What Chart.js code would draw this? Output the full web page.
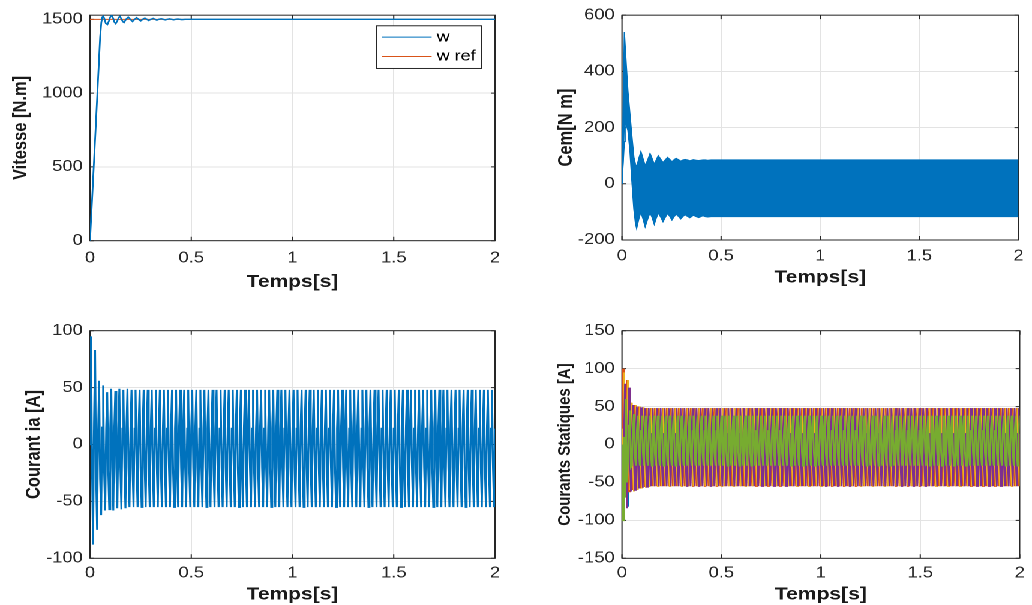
<!DOCTYPE html>
<html lang="fr">
<head>
<meta charset="UTF-8">
<title>Machine asynchrone - simulation</title>
<script src="https://cdn.jsdelivr.net/npm/chart.js@4.4.0/dist/chart.umd.min.js"></script>
<style>
  html, body { margin: 0; background: #fff; overflow: hidden; }
  /* figure is laid out narrow and stretched horizontally */
  #fig { position: absolute; left: 0; top: 0; width: 860px; height: 605px; transform: scaleX(1.2); transform-origin: 0 0; }
  #fig canvas { position: absolute; }
</style>
</head>
<body>
<div id="fig">
  <canvas id="vitesse" width="430" height="300" style="left:0;top:0"></canvas>
  <canvas id="couple" width="430" height="300" style="left:430px;top:0"></canvas>
  <canvas id="courantA" width="430" height="305" style="left:0;top:300px"></canvas>
  <canvas id="courants" width="430" height="305" style="left:430px;top:300px"></canvas>
</div>
<script>
// ---- data ----
const timeTicks = [0, 0.5, 1, 1.5, 2];
const vitesseTicks = [0, 500, 1000, 1500];
const cemTicks = [-200, 0, 200, 400, 600];
const iaTicks = [-100, -50, 0, 50, 100];
const isTicks = [-150, -100, -50, 0, 50, 100, 150];

// speed response (s, rpm)
const tW = [0, 0.01, 0.02, 0.03, 0.04, 0.05, 0.056, 0.061, 0.066, 0.072, 0.078, 0.086, 0.094, 0.1, 0.107,
  0.115, 0.12, 0.127, 0.135, 0.142, 0.148, 0.156, 0.162, 0.168, 0.178, 0.189, 0.199, 0.21, 0.22, 0.23,
  0.24, 0.25, 0.26, 0.271, 0.281, 0.29, 0.3, 0.312, 0.322, 0.33, 0.34, 0.352, 0.362, 0.372, 0.382,
  0.393, 0.403, 0.413, 0.423, 0.434, 0.444, 0.454, 0.47, 2];
const w = [0, 270, 545, 820, 1100, 1380, 1480, 1515, 1522, 1500, 1472, 1465, 1490, 1515, 1528,
  1505, 1482, 1470, 1490, 1512, 1520, 1500, 1484, 1478, 1500, 1515, 1500, 1485, 1500, 1511,
  1500, 1489, 1500, 1508, 1500, 1492, 1500, 1506, 1500, 1494, 1500, 1504, 1500, 1496, 1500,
  1503, 1500, 1497, 1500, 1502, 1500, 1498, 1500, 1500];
const tRef = [0, 2];
const wRef = [1500, 1500];

// electromagnetic torque: upper / lower edge of the ripple band
const tCem = [0, 0.004, 0.012, 0.016, 0.022, 0.03, 0.04, 0.05, 0.06, 0.068, 0.074, 0.085, 0.0955, 0.106,
  0.117, 0.13, 0.1416, 0.152, 0.163, 0.173, 0.183, 0.195, 0.207, 0.218, 0.23, 0.241, 0.252, 0.262,
  0.273, 0.285, 0.296, 0.307, 0.318, 0.33, 0.342, 0.351, 0.36, 0.375, 0.387, 0.398, 0.408, 0.42,
  0.433, 0.45, 2];
const cemHaut = [0, 0, 540, 540, 420, 330, 250, 170, 95, 70, 60, 90, 115, 90,
  65, 85, 108, 90, 70, 85, 100, 88, 76, 85, 94, 87, 79, 85,
  91, 86, 81, 85, 87, 85, 82, 84, 86, 84, 83, 84, 85, 85,
  84, 85, 85];
const cemBas = [0, 0, 150, 260, 210, 190, 120, 10, -90, -140, -159, -125, -100, -125,
  -153, -125, -102, -120, -144, -122, -104, -118, -135, -120, -106, -116, -129, -118,
  -108, -116, -125, -117, -110, -116, -121, -117, -112, -117, -120, -117, -114, -117,
  -118, -117, -117];

// stator currents, one sample every 5 ms
const pas = 0.005;
const ia = [
  0, 95, -20, -88, 20, 83, -25, -75, 10, 56, -30, -62, 15, 52, -25, -58, 14, 46, -22, -57,
  14, 49, -20, -58, 14, 47, -20, -56, 14, 49, -20, -57, 14, 48, -20, -56, 14, 49, -20, -55,
  14, 48, -20, -55, 14, 48, -20, -55, 14, 48, -20, -55, 14, 48, -20, -55, 14, 48, -20, -55,
  14, 48, -20, -55, 14, 48, -20, -55, 14, 48, -20, -55, 14, 48, -20, -55, 14, 48, -20, -55,
  14, 48, -20, -55, 14, 48, -20, -55, 14, 48, -20, -55, 14, 48, -20, -55, 14, 48, -20, -55,
  14, 48, -20, -55, 14, 48, -20, -55, 14, 48, -20, -55, 14, 48, -20, -55, 14, 48, -20, -55,
  14, 48, -20, -55, 14, 48, -20, -55, 14, 48, -20, -55, 14, 48, -20, -55, 14, 48, -20, -55,
  14, 48, -20, -55, 14, 48, -20, -55, 14, 48, -20, -55, 14, 48, -20, -55, 14, 48, -20, -55,
  14, 48, -20, -55, 14, 48, -20, -55, 14, 48, -20, -55, 14, 48, -20, -55, 14, 48, -20, -55,
  14, 48, -20, -55, 14, 48, -20, -55, 14, 48, -20, -55, 14, 48, -20, -55, 14, 48, -20, -55,
  14, 48, -20, -55, 14, 48, -20, -55, 14, 48, -20, -55, 14, 48, -20, -55, 14, 48, -20, -55,
  14, 48, -20, -55, 14, 48, -20, -55, 14, 48, -20, -55, 14, 48, -20, -55, 14, 48, -20, -55,
  14, 48, -20, -55, 14, 48, -20, -55, 14, 48, -20, -55, 14, 48, -20, -55, 14, 48, -20, -55,
  14, 48, -20, -55, 14, 48, -20, -55, 14, 48, -20, -55, 14, 48, -20, -55, 14, 48, -20, -55,
  14, 48, -20, -55, 14, 48, -20, -55, 14, 48, -20, -55, 14, 48, -20, -55, 14, 48, -20, -55,
  14, 48, -20, -55, 14, 48, -20, -55, 14, 48, -20, -55, 14, 48, -20, -55, 14, 48, -20, -55,
  14, 48, -20, -55, 14, 48, -20, -55, 14, 48, -20, -55, 14, 48, -20, -55, 14, 48, -20, -55,
  14, 48, -20, -55, 14, 48, -20, -55, 14, 48, -20, -55, 14, 48, -20, -55, 14, 48, -20, -55,
  14, 48, -20, -55, 14, 48, -20, -55, 14, 48, -20, -55, 14, 48, -20, -55, 14, 48, -20, -55,
  14, 48, -20, -55, 14, 48, -20, -55, 14, 48, -20, -55, 14, 48, -20, -55, 14, 48, -20, -55,
  14
];
const is1 = [
  0, -40, -88, 30, 55, -30, -82, 20, 52, -25, -60, 15, 50, -20, -58, 14, 48, -20, -56, 14, 48
];
const is2 = [
  0, 100, -10, -60, 20, 85, -15, -62, 18, 55, -18, -60, 16, 52, -20, -58, 15, 50, -20, -57,
  14, 49, -20, -56, 14, 48, -20, -56, 14, 48, -20, -55, 14, 48, -20, -55, 14, 48, -20, -55,
  14, 48, -20, -55, 14, 48, -20, -55, 14, 48, -20, -55, 14, 48, -20, -55, 14, 48, -20, -55,
  14, 48, -20, -55, 14, 48, -20, -55, 14, 48, -20, -55, 14, 48, -20, -55, 14, 48, -20, -55,
  14, 48, -20, -55, 14, 48, -20, -55, 14, 48, -20, -55, 14, 48, -20, -55, 14, 48, -20, -55,
  14, 48, -20, -55, 14, 48, -20, -55, 14, 48, -20, -55, 14, 48, -20, -55, 14, 48, -20, -55,
  14, 48, -20, -55, 14, 48, -20, -55, 14, 48, -20, -55, 14, 48, -20, -55, 14, 48, -20, -55,
  14, 48, -20, -55, 14, 48, -20, -55, 14, 48, -20, -55, 14, 48, -20, -55, 14, 48, -20, -55,
  14, 48, -20, -55, 14, 48, -20, -55, 14, 48, -20, -55, 14, 48, -20, -55, 14, 48, -20, -55,
  14, 48, -20, -55, 14, 48, -20, -55, 14, 48, -20, -55, 14, 48, -20, -55, 14, 48, -20, -55,
  14, 48, -20, -55, 14, 48, -20, -55, 14, 48, -20, -55, 14, 48, -20, -55, 14, 48, -20, -55,
  14, 48, -20, -55, 14, 48, -20, -55, 14, 48, -20, -55, 14, 48, -20, -55, 14, 48, -20, -55,
  14, 48, -20, -55, 14, 48, -20, -55, 14, 48, -20, -55, 14, 48, -20, -55, 14, 48, -20, -55,
  14, 48, -20, -55, 14, 48, -20, -55, 14, 48, -20, -55, 14, 48, -20, -55, 14, 48, -20, -55,
  14, 48, -20, -55, 14, 48, -20, -55, 14, 48, -20, -55, 14, 48, -20, -55, 14, 48, -20, -55,
  14, 48, -20, -55, 14, 48, -20, -55, 14, 48, -20, -55, 14, 48, -20, -55, 14, 48, -20, -55,
  14, 48, -20, -55, 14, 48, -20, -55, 14, 48, -20, -55, 14, 48, -20, -55, 14, 48, -20, -55,
  14, 48, -20, -55, 14, 48, -20, -55, 14, 48, -20, -55, 14, 48, -20, -55, 14, 48, -20, -55,
  14, 48, -20, -55, 14, 48, -20, -55, 14, 48, -20, -55, 14, 48, -20, -55, 14, 48, -20, -55,
  14, 48, -20, -55, 14, 48, -20, -55, 14, 48, -20, -55, 14, 48, -20, -55, 14, 48, -20, -55,
  14
];
const is3 = [
  0, 20, 95, -20, -50, 25, 85, -25, -60, 18, 55, -20, -62, 15, 52, -20, -60, 14, 50, -20,
  -58, 14, 49, -20, -57, 14, 48, -20, -56, 14, 48, -20, -55, 14, 48, -20, -55, 14, 48, -20,
  -55, 14, 48, -20, -55, 14, 48, -20, -55, 14, 48, -20, -55, 14, 48, -20, -55, 14, 48, -20,
  -55, 14, 48, -20, -55, 14, 48, -20, -55, 14, 48, -20, -55, 14, 48, -20, -55, 14, 48, -20,
  -55, 14, 48, -20, -55, 14, 48, -20, -55, 14, 48, -20, -55, 14, 48, -20, -55, 14, 48, -20,
  -55, 14, 48, -20, -55, 14, 48, -20, -55, 14, 48, -20, -55, 14, 48, -20, -55, 14, 48, -20,
  -55, 14, 48, -20, -55, 14, 48, -20, -55, 14, 48, -20, -55, 14, 48, -20, -55, 14, 48, -20,
  -55, 14, 48, -20, -55, 14, 48, -20, -55, 14, 48, -20, -55, 14, 48, -20, -55, 14, 48, -20,
  -55, 14, 48, -20, -55, 14, 48, -20, -55, 14, 48, -20, -55, 14, 48, -20, -55, 14, 48, -20,
  -55, 14, 48, -20, -55, 14, 48, -20, -55, 14, 48, -20, -55, 14, 48, -20, -55, 14, 48, -20,
  -55, 14, 48, -20, -55, 14, 48, -20, -55, 14, 48, -20, -55, 14, 48, -20, -55, 14, 48, -20,
  -55, 14, 48, -20, -55, 14, 48, -20, -55, 14, 48, -20, -55, 14, 48, -20, -55, 14, 48, -20,
  -55, 14, 48, -20, -55, 14, 48, -20, -55, 14, 48, -20, -55, 14, 48, -20, -55, 14, 48, -20,
  -55, 14, 48, -20, -55, 14, 48, -20, -55, 14, 48, -20, -55, 14, 48, -20, -55, 14, 48, -20,
  -55, 14, 48, -20, -55, 14, 48, -20, -55, 14, 48, -20, -55, 14, 48, -20, -55, 14, 48, -20,
  -55, 14, 48, -20, -55, 14, 48, -20, -55, 14, 48, -20, -55, 14, 48, -20, -55, 14, 48, -20,
  -55, 14, 48, -20, -55, 14, 48, -20, -55, 14, 48, -20, -55, 14, 48, -20, -55, 14, 48, -20,
  -55, 14, 48, -20, -55, 14, 48, -20, -55, 14, 48, -20, -55, 14, 48, -20, -55, 14, 48, -20,
  -55, 14, 48, -20, -55, 14, 48, -20, -55, 14, 48, -20, -55, 14, 48, -20, -55, 14, 48, -20,
  -55, 14, 48, -20, -55, 14, 48, -20, -55, 14, 48, -20, -55, 14, 48, -20, -55, 14, 48, -20,
  -55
];
const is4 = [
  0, -85, 10, 80, -25, -84, 14, 75, -20, -62, 14, 52, -20, -60, 14, 50, -20, -58, 14, 49,
  -20, -57, 14, 48, -20, -56, 14, 48, -20, -55, 14, 48, -20, -55, 14, 48, -20, -55, 14, 48,
  -20, -55, 14, 48, -20, -55, 14, 48, -20, -55, 14, 48, -20, -55, 14, 48, -20, -55, 14, 48,
  -20, -55, 14, 48, -20, -55, 14, 48, -20, -55, 14, 48, -20, -55, 14, 48, -20, -55, 14, 48,
  -20, -55, 14, 48, -20, -55, 14, 48, -20, -55, 14, 48, -20, -55, 14, 48, -20, -55, 14, 48,
  -20, -55, 14, 48, -20, -55, 14, 48, -20, -55, 14, 48, -20, -55, 14, 48, -20, -55, 14, 48,
  -20, -55, 14, 48, -20, -55, 14, 48, -20, -55, 14, 48, -20, -55, 14, 48, -20, -55, 14, 48,
  -20, -55, 14, 48, -20, -55, 14, 48, -20, -55, 14, 48, -20, -55, 14, 48, -20, -55, 14, 48,
  -20, -55, 14, 48, -20, -55, 14, 48, -20, -55, 14, 48, -20, -55, 14, 48, -20, -55, 14, 48,
  -20, -55, 14, 48, -20, -55, 14, 48, -20, -55, 14, 48, -20, -55, 14, 48, -20, -55, 14, 48,
  -20, -55, 14, 48, -20, -55, 14, 48, -20, -55, 14, 48, -20, -55, 14, 48, -20, -55, 14, 48,
  -20, -55, 14, 48, -20, -55, 14, 48, -20, -55, 14, 48, -20, -55, 14, 48, -20, -55, 14, 48,
  -20, -55, 14, 48, -20, -55, 14, 48, -20, -55, 14, 48, -20, -55, 14, 48, -20, -55, 14, 48,
  -20, -55, 14, 48, -20, -55, 14, 48, -20, -55, 14, 48, -20, -55, 14, 48, -20, -55, 14, 48,
  -20, -55, 14, 48, -20, -55, 14, 48, -20, -55, 14, 48, -20, -55, 14, 48, -20, -55, 14, 48,
  -20, -55, 14, 48, -20, -55, 14, 48, -20, -55, 14, 48, -20, -55, 14, 48, -20, -55, 14, 48,
  -20, -55, 14, 48, -20, -55, 14, 48, -20, -55, 14, 48, -20, -55, 14, 48, -20, -55, 14, 48,
  -20, -55, 14, 48, -20, -55, 14, 48, -20, -55, 14, 48, -20, -55, 14, 48, -20, -55, 14, 48,
  -20, -55, 14, 48, -20, -55, 14, 48, -20, -55, 14, 48, -20, -55, 14, 48, -20, -55, 14, 48,
  -20, -55, 14, 48, -20, -55, 14, 48, -20, -55, 14, 48, -20, -55, 14, 48, -20, -55, 14, 48,
  -20
];
const is5 = [
  0, -100, 10, -70, 60, -50, -20, 25, 45, -30, -28, 20, 40, -15, -28, 18, 38, -10, -28, 18,
  38, -10, -28, 18, 38, -10, -28, 18, 38, -10, -28, 18, 38, -10, -28, 18, 38, -10, -28, 18,
  38, -10, -28, 18, 38, -10, -28, 18, 38, -10, -28, 18, 38, -10, -28, 18, 38, -10, -28, 18,
  38, -10, -28, 18, 38, -10, -28, 18, 38, -10, -28, 18, 38, -10, -28, 18, 38, -10, -28, 18,
  38, -10, -28, 18, 38, -10, -28, 18, 38, -10, -28, 18, 38, -10, -28, 18, 38, -10, -28, 18,
  38, -10, -28, 18, 38, -10, -28, 18, 38, -10, -28, 18, 38, -10, -28, 18, 38, -10, -28, 18,
  38, -10, -28, 18, 38, -10, -28, 18, 38, -10, -28, 18, 38, -10, -28, 18, 38, -10, -28, 18,
  38, -10, -28, 18, 38, -10, -28, 18, 38, -10, -28, 18, 38, -10, -28, 18, 38, -10, -28, 18,
  38, -10, -28, 18, 38, -10, -28, 18, 38, -10, -28, 18, 38, -10, -28, 18, 38, -10, -28, 18,
  38, -10, -28, 18, 38, -10, -28, 18, 38, -10, -28, 18, 38, -10, -28, 18, 38, -10, -28, 18,
  38, -10, -28, 18, 38, -10, -28, 18, 38, -10, -28, 18, 38, -10, -28, 18, 38, -10, -28, 18,
  38, -10, -28, 18, 38, -10, -28, 18, 38, -10, -28, 18, 38, -10, -28, 18, 38, -10, -28, 18,
  38, -10, -28, 18, 38, -10, -28, 18, 38, -10, -28, 18, 38, -10, -28, 18, 38, -10, -28, 18,
  38, -10, -28, 18, 38, -10, -28, 18, 38, -10, -28, 18, 38, -10, -28, 18, 38, -10, -28, 18,
  38, -10, -28, 18, 38, -10, -28, 18, 38, -10, -28, 18, 38, -10, -28, 18, 38, -10, -28, 18,
  38, -10, -28, 18, 38, -10, -28, 18, 38, -10, -28, 18, 38, -10, -28, 18, 38, -10, -28, 18,
  38, -10, -28, 18, 38, -10, -28, 18, 38, -10, -28, 18, 38, -10, -28, 18, 38, -10, -28, 18,
  38, -10, -28, 18, 38, -10, -28, 18, 38, -10, -28, 18, 38, -10, -28, 18, 38, -10, -28, 18,
  38, -10, -28, 18, 38, -10, -28, 18, 38, -10, -28, 18, 38, -10, -28, 18, 38, -10, -28, 18,
  38, -10, -28, 18, 38, -10, -28, 18, 38, -10, -28, 18, 38, -10, -28, 18, 38, -10, -28, 18,
  38
];

// ---- styling ----
const BLEU = '#0072BD', ORANGE = '#D95319', JAUNE = '#EDB120', VIOLET = '#7E2F8E', VERT = '#77AC30';
const FONT = '"Liberation Sans", Arial, Helvetica, sans-serif';
const TICK_SIZE = 15.3;
Chart.defaults.font.family = FONT;
Chart.defaults.color = '#262626';

const xy = (xs, ys) => ys.map((v, i) => ({ x: xs[i], y: v }));
const echant = ys => ys.map((v, i) => ({ x: i * pas, y: v }));

// matlab-like axes: dark box and short inward ticks on all four sides
const boiteAxes = {
  id: 'boiteAxes',
  beforeDatasetsDraw(chart) {
    const { ctx, chartArea: a, scales: { x, y } } = chart;
    ctx.save();
    ctx.strokeStyle = '#262626';
    ctx.lineWidth = 1;
    ctx.beginPath();
    x.ticks.forEach(t => {
      const px = x.getPixelForValue(t.value);
      ctx.moveTo(px, a.bottom); ctx.lineTo(px, a.bottom - 4);
      ctx.moveTo(px, a.top); ctx.lineTo(px, a.top + 4);
    });
    y.ticks.forEach(t => {
      const py = y.getPixelForValue(t.value);
      ctx.moveTo(a.left, py); ctx.lineTo(a.left + 3.4, py);
      ctx.moveTo(a.right, py); ctx.lineTo(a.right - 3.4, py);
    });
    ctx.stroke();
    ctx.strokeRect(a.left, a.top, a.right - a.left, a.bottom - a.top);
    ctx.restore();
  }
};

// boxed legend in the upper right corner of the speed plot
const legendeBoite = {
  id: 'legendeBoite',
  afterDatasetsDraw(chart) {
    const { ctx, chartArea: a } = chart;
    const lw = 87.5, lh = 42.7;
    const x0 = a.right - 11.1 - lw, y0 = a.top + 10.6;
    ctx.save();
    ctx.fillStyle = '#fff';
    ctx.fillRect(x0, y0, lw, lh);
    ctx.strokeStyle = '#262626';
    ctx.lineWidth = 1;
    ctx.strokeRect(x0, y0, lw, lh);
    ctx.font = '15px ' + FONT;
    ctx.textBaseline = 'middle';
    chart.data.datasets.forEach((ds, i) => {
      const yy = y0 + 11.4 + i * 19.3;
      ctx.strokeStyle = ds.borderColor;
      ctx.beginPath();
      ctx.moveTo(x0 + 4.4, yy);
      ctx.lineTo(x0 + 45.8, yy);
      ctx.stroke();
      ctx.fillStyle = '#000';
      ctx.fillText(ds.label, x0 + 50, yy);
    });
    ctx.restore();
  }
};

function panel(id, datasets, o, extra) {
  return new Chart(document.getElementById(id), {
    type: 'line',
    data: { datasets },
    options: {
      responsive: false,
      animation: false,
      devicePixelRatio: 2,
      parsing: false,
      normalized: true,
      layout: { padding: { top: o.top, right: o.right, left: 0, bottom: 0 } },
      elements: { point: { radius: 0 }, line: { tension: 0 } },
      plugins: { legend: { display: false }, tooltip: { enabled: false } },
      scales: {
        x: {
          type: 'linear', min: 0, max: 2,
          afterBuildTicks: s => { s.ticks = timeTicks.map(v => ({ value: v })); },
          afterFit: s => { s.height = o.xHeight; },
          grid: { color: '#e3e3e3', drawTicks: false },
          border: { display: false },
          ticks: { padding: o.xPad, maxRotation: 0, autoSkip: false, font: { size: TICK_SIZE }, callback: v => String(v) },
          title: { display: true, text: 'Temps[s]', color: '#1a1a1a', font: { size: 17.5, weight: 'bold' }, padding: { top: 0, bottom: o.xTitlePad } }
        },
        y: {
          type: 'linear', min: o.yTicks[0], max: o.yMax,
          afterBuildTicks: s => { s.ticks = o.yTicks.map(v => ({ value: v })); },
          afterFit: s => { s.width = o.yWidth; },
          grid: { color: '#e3e3e3', drawTicks: false },
          border: { display: false },
          ticks: { padding: 6, autoSkip: false, font: { size: TICK_SIZE }, callback: v => String(v) },
          title: { display: true, text: o.yTitle, color: '#1a1a1a', font: { size: o.yTitleSize || 16.5, weight: 'bold' }, padding: { top: o.yTitlePad, bottom: 0 } }
        }
      }
    },
    plugins: [boiteAxes].concat(extra || [])
  });
}

panel('vitesse', [
  { label: 'w', data: xy(tW, w), borderColor: BLEU, borderWidth: 1.4 },
  { label: 'w ref', data: xy(tRef, wRef), borderColor: ORANGE, borderWidth: 1 }
], { top: 12.7, right: 17.5, yWidth: 75, xHeight: 59.3, xPad: 8.3, xTitlePad: 7.5,
     yTicks: vitesseTicks, yMax: 1528, yTitle: 'Vitesse [N.m]', yTitlePad: 7.8 }, [legendeBoite]);

panel('couple', [
  { label: 'Cem', data: xy(tCem, cemHaut), borderColor: BLEU, backgroundColor: BLEU, borderWidth: 1, fill: '+1' },
  { label: 'Cem bas', data: xy(tCem, cemBas), borderColor: BLEU, borderWidth: 1 }
], { top: 13.3, right: 4.2, yWidth: 88.3, xHeight: 60, xPad: 7, xTitlePad: 12,
     yTicks: cemTicks, yMax: 600, yTitle: 'Cem[N m]', yTitlePad: 32 });

panel('courantA', [
  { label: 'ia', data: echant(ia), borderColor: BLEU, borderWidth: 1.6 }
], { top: 30.7, right: 17.5, yWidth: 75, xHeight: 46.7, xPad: 6, xTitlePad: 0,
     yTicks: iaTicks, yMax: 100, yTitle: 'Courant ia [A]', yTitlePad: 18.6 });

// first dataset is painted last, so the green trace ends up on top
panel('courants', [
  { label: 'i5', data: echant(is5), borderColor: VERT, borderWidth: 1.5 },
  { label: 'i4', data: echant(is4), borderColor: VIOLET, borderWidth: 1.4 },
  { label: 'i3', data: echant(is3), borderColor: JAUNE, borderWidth: 1.4 },
  { label: 'i2', data: echant(is2), borderColor: ORANGE, borderWidth: 1.4 },
  { label: 'i1', data: echant(is1), borderColor: BLEU, borderWidth: 1.4 }
], { top: 30.7, right: 4.2, yWidth: 88.3, xHeight: 46.7, xPad: 6, xTitlePad: 0,
     yTicks: isTicks, yMax: 150, yTitle: 'Courants Statiques [A]', yTitleSize: 15, yTitlePad: 32.1 });
</script>
</body>
</html>
